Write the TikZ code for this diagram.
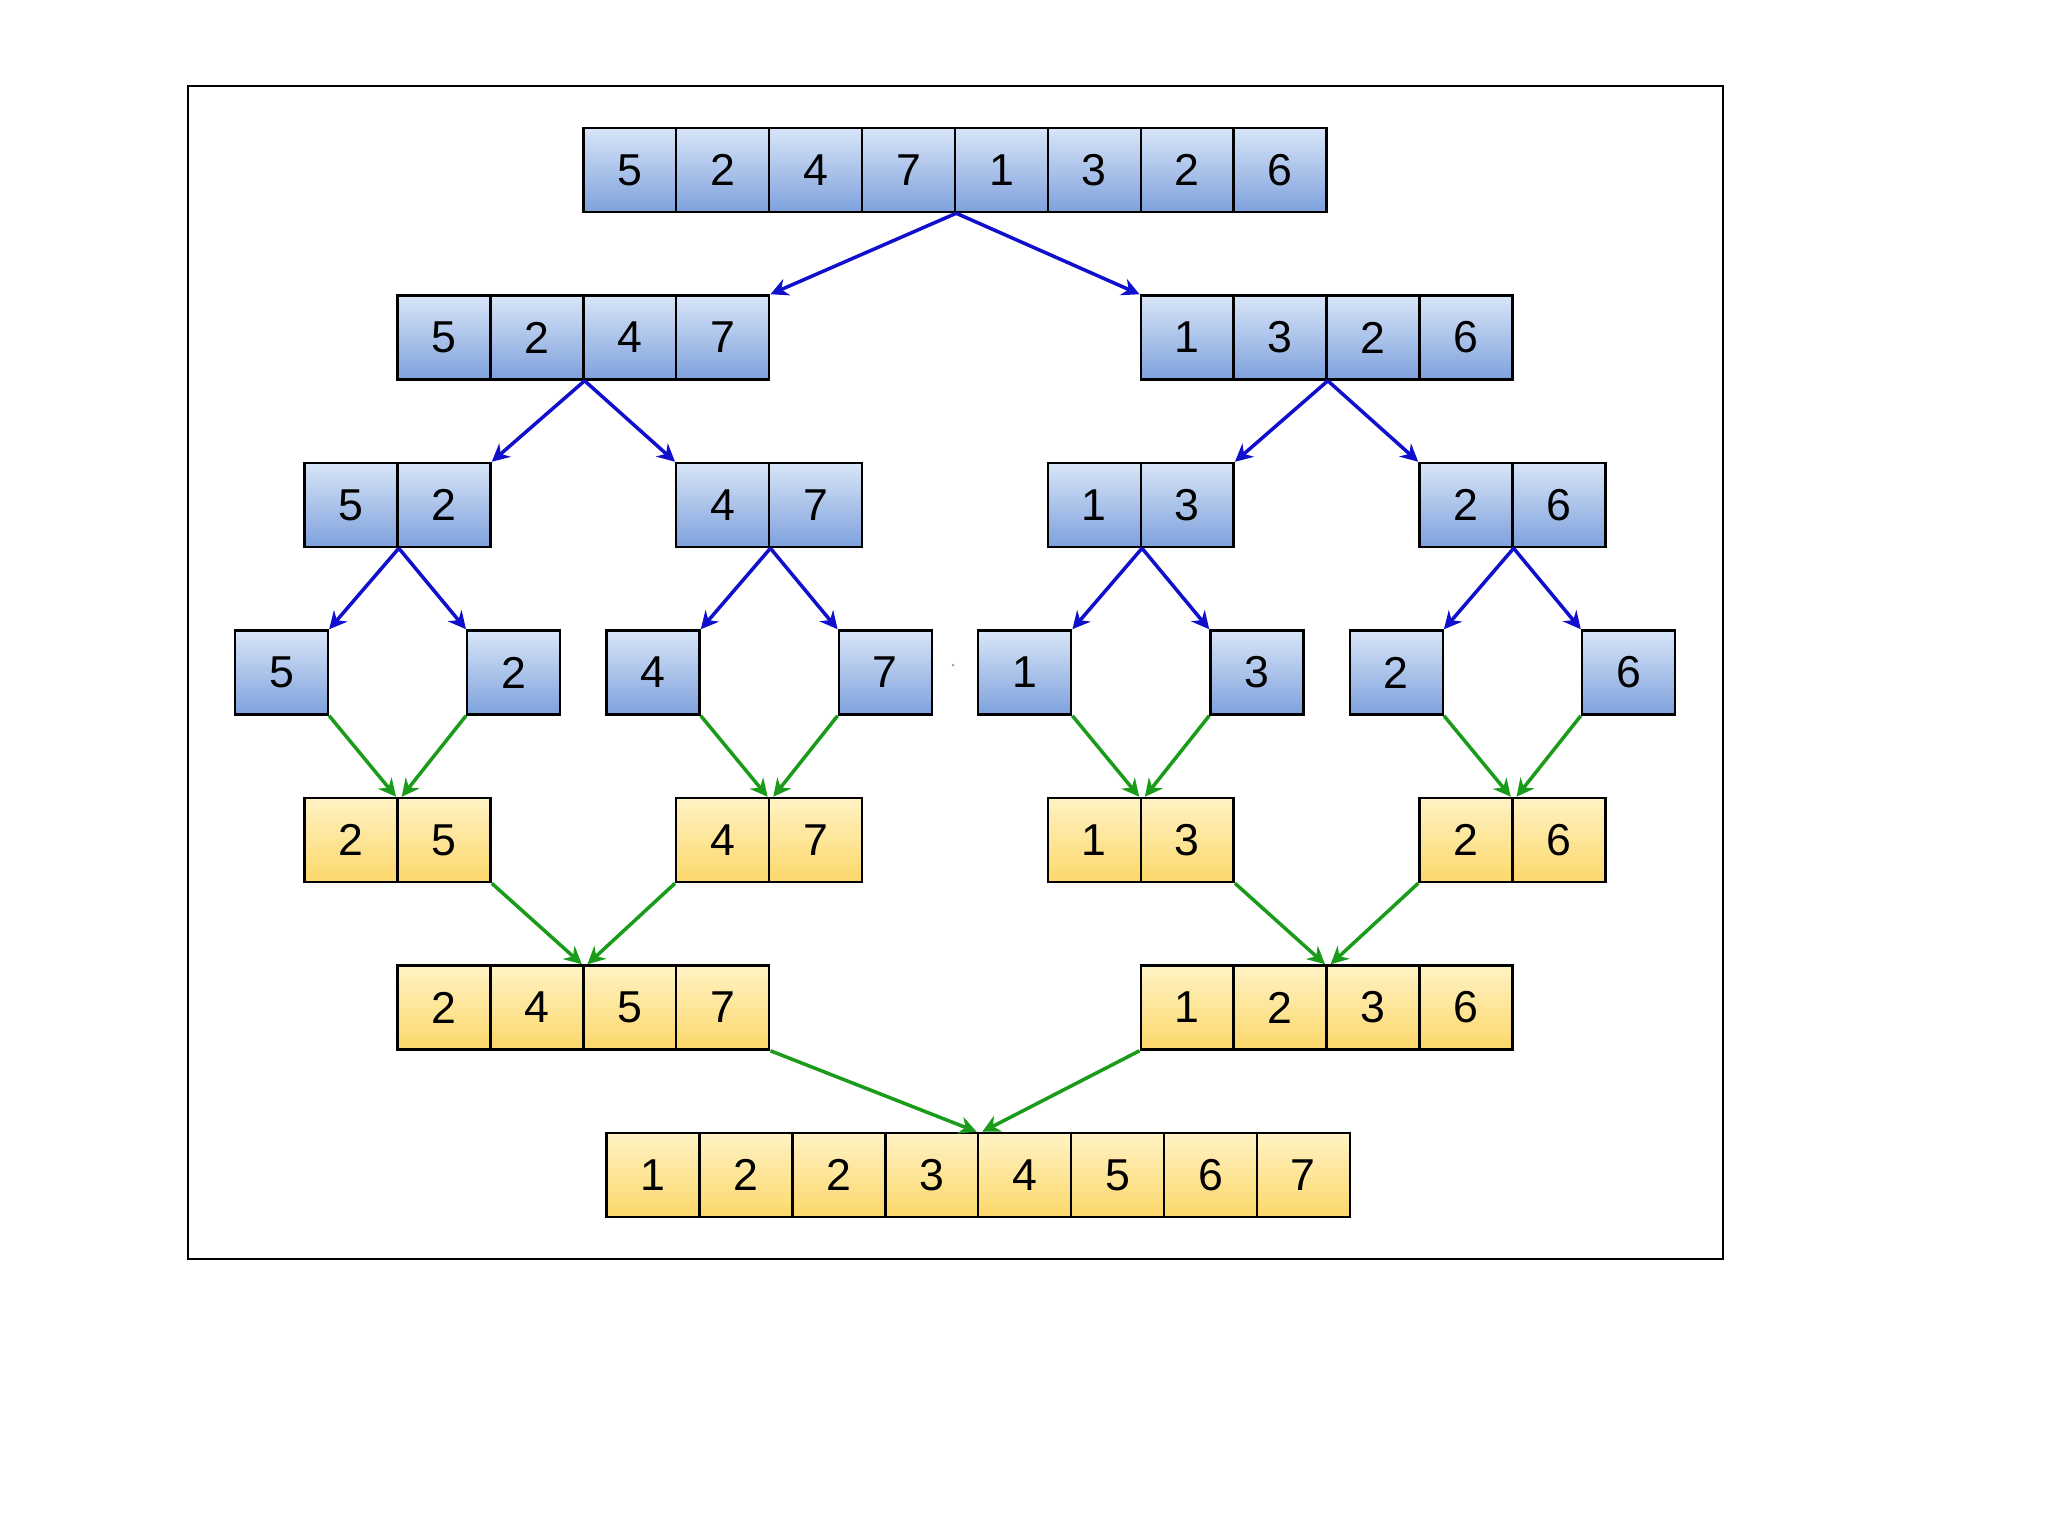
\documentclass[tikz,border=0pt]{standalone}
\usepackage{fontspec}
\setmainfont{Liberation Sans}
\usetikzlibrary{arrows.meta}
\definecolor{bluetop}{HTML}{D8E5F8}
\definecolor{bluebot}{HTML}{7EA1DC}
\definecolor{yeltop}{HTML}{FFF2C4}
\definecolor{yelbot}{HTML}{FCD86A}
\definecolor{splitblue}{HTML}{1010CC}
\definecolor{mergegreen}{HTML}{1A9C1A}
\tikzset{
  cell/.style={draw=black, line width=0.7pt, minimum width=0.929cm, minimum height=0.84cm,
    inner sep=0pt, font=\fontsize{12.7}{15}\selectfont},
  bluecell/.style={cell, top color=bluetop, bottom color=bluebot},
  yelcell/.style={cell, top color=yeltop, bottom color=yelbot},
  split/.style={draw=splitblue, line width=1pt, -{Stealth[length=5pt,width=5pt]}},
  merge/.style={draw=mergegreen, line width=1pt, -{Stealth[length=5pt,width=5pt]}}
}
\newcommand\cellrow[5]{%
  \foreach \v [count=\i] in {#4} {
    \node[#5] (#1\i) at ({235+(#3+\i-0.5)*92.9},#2) {\v};
  }}
\begin{document}
\begin{tikzpicture}[x=0.01cm,y=-0.01cm]
\useasboundingbox (0,0) rectangle (2048,1536);
\draw[line width=0.6pt] (188,86) rectangle (1723,1259);
% split rows
\cellrow{T}{170}{3.75}{5,2,4,7,1,3,2,6}{bluecell}
\cellrow{A}{337.5}{1.75}{5,2,4,7}{bluecell}
\cellrow{B}{337.5}{9.75}{1,3,2,6}{bluecell}
\cellrow{C}{505}{0.75}{5,2}{bluecell}
\cellrow{D}{505}{4.75}{4,7}{bluecell}
\cellrow{E}{505}{8.75}{1,3}{bluecell}
\cellrow{F}{505}{12.75}{2,6}{bluecell}
\cellrow{G}{672.5}{0}{5}{bluecell}
\cellrow{H}{672.5}{2.5}{2}{bluecell}
\cellrow{I}{672.5}{4}{4}{bluecell}
\cellrow{J}{672.5}{6.5}{7}{bluecell}
\cellrow{K}{672.5}{8}{1}{bluecell}
\cellrow{L}{672.5}{10.5}{3}{bluecell}
\cellrow{M}{672.5}{12}{2}{bluecell}
\cellrow{N}{672.5}{14.5}{6}{bluecell}
% merge rows
\cellrow{P}{840}{0.75}{2,5}{yelcell}
\cellrow{Q}{840}{4.75}{4,7}{yelcell}
\cellrow{R}{840}{8.75}{1,3}{yelcell}
\cellrow{S}{840}{12.75}{2,6}{yelcell}
\cellrow{U}{1007.5}{1.75}{2,4,5,7}{yelcell}
\cellrow{V}{1007.5}{9.75}{1,2,3,6}{yelcell}
\cellrow{W}{1175}{4}{1,2,2,3,4,5,6,7}{yelcell}
% split arrows
\draw[split] (T4.south east) -- (A4.north east);
\draw[split] (T4.south east) -- (B1.north west);
\draw[split] (A2.south east) -- (C2.north east);
\draw[split] (A2.south east) -- (D1.north west);
\draw[split] (B2.south east) -- (E2.north east);
\draw[split] (B2.south east) -- (F1.north west);
\draw[split] (C1.south east) -- (G1.north east);
\draw[split] (C1.south east) -- (H1.north west);
\draw[split] (D1.south east) -- (I1.north east);
\draw[split] (D1.south east) -- (J1.north west);
\draw[split] (E1.south east) -- (K1.north east);
\draw[split] (E1.south east) -- (L1.north west);
\draw[split] (F1.south east) -- (M1.north east);
\draw[split] (F1.south east) -- (N1.north west);
% merge arrows
\draw[merge] (G1.south east) -- ([xshift=-0.8pt]P1.north east);
\draw[merge] (H1.south west) -- ([xshift=0.8pt]P1.north east);
\draw[merge] (I1.south east) -- ([xshift=-0.8pt]Q1.north east);
\draw[merge] (J1.south west) -- ([xshift=0.8pt]Q1.north east);
\draw[merge] (K1.south east) -- ([xshift=-0.8pt]R1.north east);
\draw[merge] (L1.south west) -- ([xshift=0.8pt]R1.north east);
\draw[merge] (M1.south east) -- ([xshift=-0.8pt]S1.north east);
\draw[merge] (N1.south west) -- ([xshift=0.8pt]S1.north east);
\draw[merge] (P2.south east) -- ([xshift=-0.8pt]U2.north east);
\draw[merge] (Q1.south west) -- ([xshift=0.8pt]U2.north east);
\draw[merge] (R2.south east) -- ([xshift=-0.8pt]V2.north east);
\draw[merge] (S1.south west) -- ([xshift=0.8pt]V2.north east);
\draw[merge] (U4.south east) -- ([xshift=-0.8pt]W4.north east);
\draw[merge] (V1.south west) -- ([xshift=0.8pt]W4.north east);
% small stray mark
\fill[gray!70] (953,665) circle (1.5);
\end{tikzpicture}
\end{document}
